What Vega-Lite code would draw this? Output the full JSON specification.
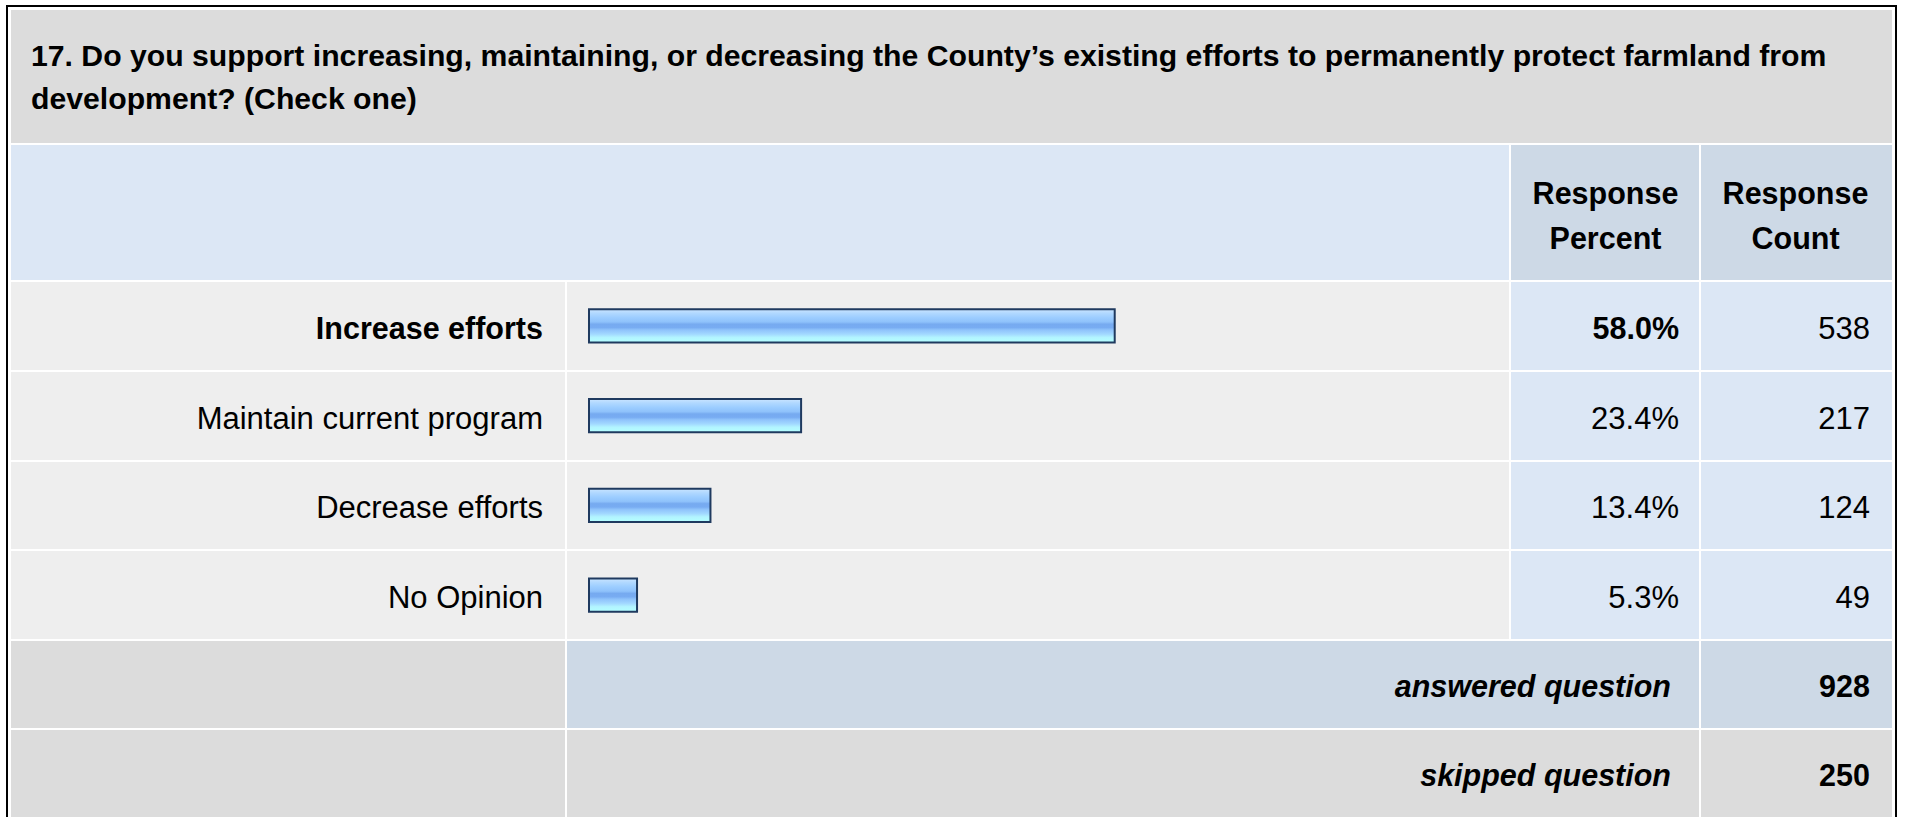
{
  "$schema": "https://vega.github.io/schema/vega-lite/v6.json",
  "width": 1907,
  "height": 817,
  "autosize": {"type": "none"},
  "padding": 0,
  "background": "white",
  "config": {"view": {"stroke": null}, "text": {"font": "Liberation Sans", "color": "black"}},
  "datasets": {
    "cells": [
      {"c0": 1, "c1": 5, "r0": 1, "r1": 2, "tone": "question"},
      {"c0": 1, "c1": 3, "r0": 2, "r1": 3, "tone": "head"},
      {"c0": 3, "c1": 4, "r0": 2, "r1": 3, "tone": "headCol"},
      {"c0": 4, "c1": 5, "r0": 2, "r1": 3, "tone": "headCol"},
      {"c0": 1, "c1": 2, "r0": 3, "r1": 4, "tone": "row"},
      {"c0": 2, "c1": 3, "r0": 3, "r1": 4, "tone": "row"},
      {"c0": 3, "c1": 4, "r0": 3, "r1": 4, "tone": "value"},
      {"c0": 4, "c1": 5, "r0": 3, "r1": 4, "tone": "value"},
      {"c0": 1, "c1": 2, "r0": 4, "r1": 5, "tone": "row"},
      {"c0": 2, "c1": 3, "r0": 4, "r1": 5, "tone": "row"},
      {"c0": 3, "c1": 4, "r0": 4, "r1": 5, "tone": "value"},
      {"c0": 4, "c1": 5, "r0": 4, "r1": 5, "tone": "value"},
      {"c0": 1, "c1": 2, "r0": 5, "r1": 6, "tone": "row"},
      {"c0": 2, "c1": 3, "r0": 5, "r1": 6, "tone": "row"},
      {"c0": 3, "c1": 4, "r0": 5, "r1": 6, "tone": "value"},
      {"c0": 4, "c1": 5, "r0": 5, "r1": 6, "tone": "value"},
      {"c0": 1, "c1": 2, "r0": 6, "r1": 7, "tone": "row"},
      {"c0": 2, "c1": 3, "r0": 6, "r1": 7, "tone": "row"},
      {"c0": 3, "c1": 4, "r0": 6, "r1": 7, "tone": "value"},
      {"c0": 4, "c1": 5, "r0": 6, "r1": 7, "tone": "value"},
      {"c0": 1, "c1": 2, "r0": 7, "r1": 8, "tone": "foot"},
      {"c0": 2, "c1": 4, "r0": 7, "r1": 8, "tone": "total"},
      {"c0": 4, "c1": 5, "r0": 7, "r1": 8, "tone": "total"},
      {"c0": 1, "c1": 2, "r0": 8, "r1": 9, "tone": "foot"},
      {"c0": 2, "c1": 4, "r0": 8, "r1": 9, "tone": "foot"},
      {"c0": 4, "c1": 5, "r0": 8, "r1": 9, "tone": "foot"}
    ],
    "frame": [{"c0": 0, "c1": 6, "r0": 0, "r1": 10}],
    "question": [
      {"lines": ["17. Do you support increasing, maintaining, or decreasing the County’s existing efforts to permanently protect farmland from", "development? (Check one)"], "c0": 1, "r0": 1}
    ],
    "headers": [
      {"label": ["Response", "Percent"], "c0": 3, "r0": 2},
      {"label": ["Response", "Count"], "c0": 4, "r0": 2}
    ],
    "responses": [
      {"answer": "Increase efforts", "share": 0.580, "count": 538},
      {"answer": "Maintain current program", "share": 0.234, "count": 217},
      {"answer": "Decrease efforts", "share": 0.134, "count": 124},
      {"answer": "No Opinion", "share": 0.053, "count": 49}
    ],
    "totals": [
      {"label": "answered question", "total": 928},
      {"label": "skipped question", "total": 250}
    ]
  },
  "resolve": {"scale": {"x": "independent", "y": "independent", "fill": "independent"}},
  "layer": [
    {
      "data": {"name": "cells"},
      "mark": {"type": "rect", "stroke": "white", "strokeWidth": 2},
      "encoding": {
        "x": {"field": "c0", "type": "quantitative", "axis": null, "scale": {"type": "linear", "domain": [0, 1, 2, 3, 4, 5, 6], "range": [7, 10, 566, 1510, 1700, 1893, 1896], "nice": false, "zero": false}},
        "x2": {"field": "c1"},
        "y": {"field": "r0", "type": "quantitative", "axis": null, "scale": {"type": "linear", "domain": [0, 1, 2, 3, 4, 5, 6, 7, 8, 9, 10], "range": [6, 9, 144, 281, 371, 461, 550, 640, 729, 818, 822], "nice": false, "zero": false}},
        "y2": {"field": "r1"},
        "fill": {"field": "tone", "type": "nominal", "legend": null, "scale": {"domain": ["question", "head", "headCol", "row", "value", "total", "foot"], "range": ["#dcdcdc", "#dce7f5", "#cdd9e6", "#eeeeee", "#dce7f5", "#cdd9e6", "#dcdcdc"]}}
      }
    },
    {
      "data": {"name": "frame"},
      "mark": {"type": "rect", "fill": "transparent", "stroke": "black", "strokeWidth": 2},
      "encoding": {
        "x": {"field": "c0", "type": "quantitative", "axis": null, "scale": {"type": "linear", "domain": [0, 1, 2, 3, 4, 5, 6], "range": [7, 10, 566, 1510, 1700, 1893, 1896], "nice": false, "zero": false}},
        "x2": {"field": "c1"},
        "y": {"field": "r0", "type": "quantitative", "axis": null, "scale": {"type": "linear", "domain": [0, 1, 2, 3, 4, 5, 6, 7, 8, 9, 10], "range": [6, 9, 144, 281, 371, 461, 550, 640, 729, 818, 822], "nice": false, "zero": false}},
        "y2": {"field": "r1"}
      }
    },
    {
      "data": {"name": "question"},
      "mark": {"type": "text", "align": "left", "baseline": "top", "fontSize": 30.2, "fontWeight": "bold", "lineHeight": 43, "dx": 21, "dy": 33},
      "encoding": {
        "x": {"field": "c0", "type": "quantitative", "axis": null, "scale": {"type": "linear", "domain": [0, 1, 2, 3, 4, 5, 6], "range": [7, 10, 566, 1510, 1700, 1893, 1896], "nice": false, "zero": false}},
        "y": {"field": "r0", "type": "quantitative", "axis": null, "scale": {"type": "linear", "domain": [0, 1, 2, 3, 4, 5, 6, 7, 8, 9, 10], "range": [6, 9, 144, 281, 371, 461, 550, 640, 729, 818, 822], "nice": false, "zero": false}},
        "text": {"field": "lines"}
      }
    },
    {
      "data": {"name": "headers"},
      "mark": {"type": "text", "align": "center", "baseline": "top", "fontSize": 30.5, "fontWeight": "bold", "lineHeight": 45, "dx": 95.5, "dy": 36},
      "encoding": {
        "x": {"field": "c0", "type": "quantitative", "axis": null, "scale": {"type": "linear", "domain": [0, 1, 2, 3, 4, 5, 6], "range": [7, 10, 566, 1510, 1700, 1893, 1896], "nice": false, "zero": false}},
        "y": {"field": "r0", "type": "quantitative", "axis": null, "scale": {"type": "linear", "domain": [0, 1, 2, 3, 4, 5, 6, 7, 8, 9, 10], "range": [6, 9, 144, 281, 371, 461, 550, 640, 729, 818, 822], "nice": false, "zero": false}},
        "text": {"field": "label"}
      }
    },
    {
      "data": {"name": "responses"},
      "mark": {
        "type": "bar",
        "stroke": "#1f3a5f",
        "strokeWidth": 2,
        "fill": {
          "gradient": "linear", "x1": 0, "y1": 0, "x2": 0, "y2": 1,
          "stops": [
            {"offset": 0, "color": "#c9e4ff"},
            {"offset": 0.12, "color": "#b0d8ff"},
            {"offset": 0.25, "color": "#9ccdff"},
            {"offset": 0.38, "color": "#8fc2fb"},
            {"offset": 0.45, "color": "#76aaf0"},
            {"offset": 0.55, "color": "#78acf2"},
            {"offset": 0.62, "color": "#8ec2fb"},
            {"offset": 0.75, "color": "#a2d8ff"},
            {"offset": 0.85, "color": "#b2f4ff"},
            {"offset": 1, "color": "#b4ffff"}
          ]
        }
      },
      "encoding": {
        "x": {"field": "share", "type": "quantitative", "axis": null, "scale": {"type": "linear", "domain": [0, 1], "range": [589, 1495.4], "nice": false, "zero": true}},
        "y": {"field": "answer", "type": "nominal", "axis": null, "scale": {"type": "band", "domain": ["Increase efforts", "Maintain current program", "Decrease efforts", "No Opinion"], "range": [281, 640], "paddingInner": 0.6323, "paddingOuter": 0.31615}}
      }
    },
    {
      "data": {"name": "responses"},
      "transform": [
        {"joinaggregate": [{"op": "max", "field": "share", "as": "top"}]},
        {"filter": "datum.share < datum.top"}
      ],
      "layer": [
        {
          "mark": {"type": "text", "align": "right", "baseline": "alphabetic", "fontSize": 31, "dx": -23, "dy": 13},
          "encoding": {
            "x": {"datum": 2, "type": "quantitative", "axis": null, "scale": {"type": "linear", "domain": [0, 1, 2, 3, 4, 5, 6], "range": [7, 10, 566, 1510, 1700, 1893, 1896], "nice": false, "zero": false}},
            "y": {"field": "answer", "type": "nominal", "axis": null, "scale": {"type": "band", "domain": ["Increase efforts", "Maintain current program", "Decrease efforts", "No Opinion"], "range": [281, 640], "paddingInner": 0.6323, "paddingOuter": 0.31615}},
            "text": {"field": "answer"}
          }
        },
        {
          "mark": {"type": "text", "align": "right", "baseline": "alphabetic", "fontSize": 31, "dx": -21, "dy": 13},
          "encoding": {
            "x": {"datum": 4, "type": "quantitative", "axis": null, "scale": {"type": "linear", "domain": [0, 1, 2, 3, 4, 5, 6], "range": [7, 10, 566, 1510, 1700, 1893, 1896], "nice": false, "zero": false}},
            "y": {"field": "answer", "type": "nominal", "axis": null, "scale": {"type": "band", "domain": ["Increase efforts", "Maintain current program", "Decrease efforts", "No Opinion"], "range": [281, 640], "paddingInner": 0.6323, "paddingOuter": 0.31615}},
            "text": {"field": "share", "type": "quantitative", "format": ".1%"}
          }
        },
        {
          "mark": {"type": "text", "align": "right", "baseline": "alphabetic", "fontSize": 31, "dx": -23, "dy": 13},
          "encoding": {
            "x": {"datum": 5, "type": "quantitative", "axis": null, "scale": {"type": "linear", "domain": [0, 1, 2, 3, 4, 5, 6], "range": [7, 10, 566, 1510, 1700, 1893, 1896], "nice": false, "zero": false}},
            "y": {"field": "answer", "type": "nominal", "axis": null, "scale": {"type": "band", "domain": ["Increase efforts", "Maintain current program", "Decrease efforts", "No Opinion"], "range": [281, 640], "paddingInner": 0.6323, "paddingOuter": 0.31615}},
            "text": {"field": "count", "type": "quantitative"}
          }
        }
      ],
      "resolve": {"scale": {"x": "independent", "y": "independent"}}
    },
    {
      "data": {"name": "responses"},
      "transform": [
        {"joinaggregate": [{"op": "max", "field": "share", "as": "top"}]},
        {"filter": "datum.share == datum.top"}
      ],
      "layer": [
        {
          "mark": {"type": "text", "align": "right", "baseline": "alphabetic", "fontSize": 30.5, "fontWeight": "bold", "dx": -23, "dy": 13},
          "encoding": {
            "x": {"datum": 2, "type": "quantitative", "axis": null, "scale": {"type": "linear", "domain": [0, 1, 2, 3, 4, 5, 6], "range": [7, 10, 566, 1510, 1700, 1893, 1896], "nice": false, "zero": false}},
            "y": {"field": "answer", "type": "nominal", "axis": null, "scale": {"type": "band", "domain": ["Increase efforts", "Maintain current program", "Decrease efforts", "No Opinion"], "range": [281, 640], "paddingInner": 0.6323, "paddingOuter": 0.31615}},
            "text": {"field": "answer"}
          }
        },
        {
          "mark": {"type": "text", "align": "right", "baseline": "alphabetic", "fontSize": 30.5, "fontWeight": "bold", "dx": -21, "dy": 13},
          "encoding": {
            "x": {"datum": 4, "type": "quantitative", "axis": null, "scale": {"type": "linear", "domain": [0, 1, 2, 3, 4, 5, 6], "range": [7, 10, 566, 1510, 1700, 1893, 1896], "nice": false, "zero": false}},
            "y": {"field": "answer", "type": "nominal", "axis": null, "scale": {"type": "band", "domain": ["Increase efforts", "Maintain current program", "Decrease efforts", "No Opinion"], "range": [281, 640], "paddingInner": 0.6323, "paddingOuter": 0.31615}},
            "text": {"field": "share", "type": "quantitative", "format": ".1%"}
          }
        },
        {
          "mark": {"type": "text", "align": "right", "baseline": "alphabetic", "fontSize": 31, "dx": -23, "dy": 13},
          "encoding": {
            "x": {"datum": 5, "type": "quantitative", "axis": null, "scale": {"type": "linear", "domain": [0, 1, 2, 3, 4, 5, 6], "range": [7, 10, 566, 1510, 1700, 1893, 1896], "nice": false, "zero": false}},
            "y": {"field": "answer", "type": "nominal", "axis": null, "scale": {"type": "band", "domain": ["Increase efforts", "Maintain current program", "Decrease efforts", "No Opinion"], "range": [281, 640], "paddingInner": 0.6323, "paddingOuter": 0.31615}},
            "text": {"field": "count", "type": "quantitative"}
          }
        }
      ],
      "resolve": {"scale": {"x": "independent", "y": "independent"}}
    },
    {
      "data": {"name": "totals"},
      "layer": [
        {
          "mark": {"type": "text", "align": "right", "baseline": "alphabetic", "fontSize": 30.5, "fontWeight": "bold", "fontStyle": "italic", "dx": -29, "dy": 12.5},
          "encoding": {
            "x": {"datum": 4, "type": "quantitative", "axis": null, "scale": {"type": "linear", "domain": [0, 1, 2, 3, 4, 5, 6], "range": [7, 10, 566, 1510, 1700, 1893, 1896], "nice": false, "zero": false}},
            "y": {"field": "label", "type": "nominal", "axis": null, "scale": {"type": "band", "domain": ["answered question", "skipped question"], "range": [640, 818], "paddingInner": 0, "paddingOuter": 0}},
            "text": {"field": "label"}
          }
        },
        {
          "mark": {"type": "text", "align": "right", "baseline": "alphabetic", "fontSize": 30.5, "fontWeight": "bold", "dx": -23, "dy": 12.5},
          "encoding": {
            "x": {"datum": 5, "type": "quantitative", "axis": null, "scale": {"type": "linear", "domain": [0, 1, 2, 3, 4, 5, 6], "range": [7, 10, 566, 1510, 1700, 1893, 1896], "nice": false, "zero": false}},
            "y": {"field": "label", "type": "nominal", "axis": null, "scale": {"type": "band", "domain": ["answered question", "skipped question"], "range": [640, 818], "paddingInner": 0, "paddingOuter": 0}},
            "text": {"field": "total", "type": "quantitative"}
          }
        }
      ],
      "resolve": {"scale": {"x": "independent", "y": "independent"}}
    }
  ]
}
